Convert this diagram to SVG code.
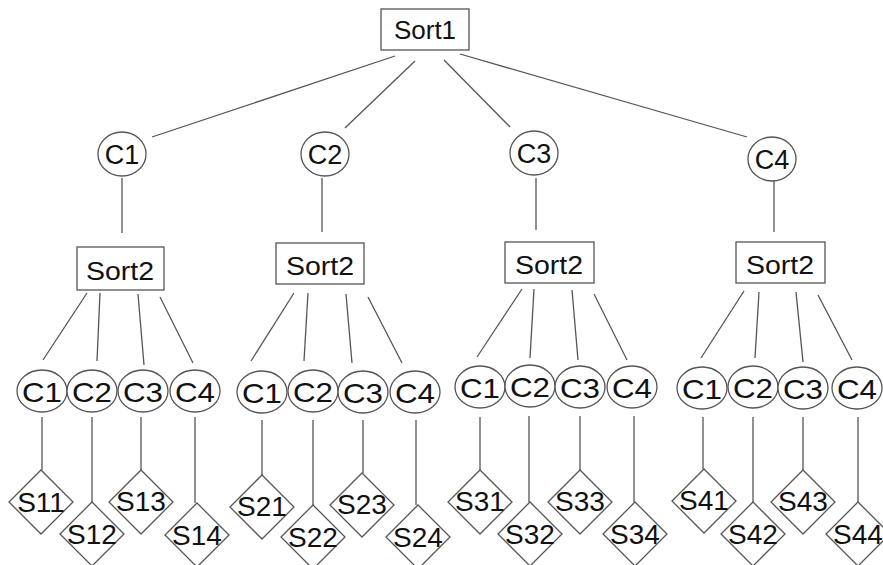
<svg xmlns="http://www.w3.org/2000/svg" width="883" height="565" viewBox="0 0 883 565">
<style>
.b{fill:#fff;stroke:#555;stroke-width:1.3}
.e{fill:#fff;stroke:#555;stroke-width:1.3}
.l{stroke:#555;stroke-width:1.3;fill:none}
text{font-family:"Liberation Sans",Arial,sans-serif;fill:#111;text-anchor:middle}
.ts{font-size:26px}
.tt{font-size:27px}
.tc{font-size:28px}
.td{font-size:28px}
</style>
<rect width="883" height="565" fill="#fff"/>
<g id="connectors">
<line class="l" x1="395" y1="56" x2="152" y2="137"/>
<line class="l" x1="415" y1="61" x2="345" y2="128"/>
<line class="l" x1="444" y1="60" x2="510" y2="127"/>
<line class="l" x1="460" y1="54" x2="747" y2="137"/>
<line class="l" x1="122" y1="178" x2="122" y2="233"/>
<line class="l" x1="322" y1="178" x2="322" y2="232"/>
<line class="l" x1="536" y1="178" x2="536" y2="230"/>
<line class="l" x1="774" y1="181" x2="774" y2="232"/>
<line class="l" x1="87" y1="293" x2="43" y2="360"/>
<line class="l" x1="100" y1="293" x2="97" y2="361"/>
<line class="l" x1="138" y1="294" x2="144" y2="365"/>
<line class="l" x1="160" y1="297" x2="193" y2="363"/>
<line class="l" x1="294" y1="293" x2="251" y2="361"/>
<line class="l" x1="308" y1="293" x2="304" y2="361"/>
<line class="l" x1="346" y1="294" x2="352" y2="363"/>
<line class="l" x1="368" y1="297" x2="402" y2="363"/>
<line class="l" x1="522" y1="289" x2="477" y2="357"/>
<line class="l" x1="534" y1="289" x2="530" y2="358"/>
<line class="l" x1="572" y1="290" x2="578" y2="360"/>
<line class="l" x1="594" y1="294" x2="627" y2="360"/>
<line class="l" x1="744" y1="291" x2="701" y2="358"/>
<line class="l" x1="759" y1="292" x2="755" y2="358"/>
<line class="l" x1="796" y1="292" x2="803" y2="362"/>
<line class="l" x1="818" y1="295" x2="852" y2="360"/>
<line class="l" x1="42" y1="417" x2="42" y2="470"/>
<line class="l" x1="92" y1="417" x2="92" y2="502"/>
<line class="l" x1="141" y1="417" x2="141" y2="470"/>
<line class="l" x1="195" y1="417" x2="195" y2="503"/>
<line class="l" x1="262" y1="420" x2="262" y2="475"/>
<line class="l" x1="313" y1="420" x2="313" y2="505"/>
<line class="l" x1="363" y1="420" x2="363" y2="473"/>
<line class="l" x1="416" y1="420" x2="416" y2="505"/>
<line class="l" x1="480" y1="417" x2="480" y2="470"/>
<line class="l" x1="529" y1="416" x2="529" y2="502"/>
<line class="l" x1="580" y1="416" x2="580" y2="470"/>
<line class="l" x1="634" y1="416" x2="634" y2="502"/>
<line class="l" x1="703" y1="417" x2="703" y2="469"/>
<line class="l" x1="753" y1="417" x2="753" y2="502"/>
<line class="l" x1="803" y1="417" x2="803" y2="470"/>
<line class="l" x1="858" y1="417" x2="858" y2="502"/>
</g>
<g id="sort1"><rect class="b" x="381" y="9" width="88" height="41"/><text class="ts" x="425" y="39">Sort1</text></g>
<g id="c1"><ellipse class="e" cx="122" cy="154" rx="24" ry="22"/><text class="tt" x="122" y="164">C1</text></g>
<g id="c2"><ellipse class="e" cx="325" cy="154" rx="24" ry="22"/><text class="tt" x="325" y="164">C2</text></g>
<g id="c3"><ellipse class="e" cx="534" cy="153" rx="24" ry="22"/><text class="tt" x="534" y="163">C3</text></g>
<g id="c4"><ellipse class="e" cx="772" cy="159" rx="24" ry="22"/><text class="tt" x="772" y="169">C4</text></g>
<g id="sort2-1"><rect class="b" x="77" y="247" width="87" height="43"/><text class="ts" x="120" y="280" textLength="68" lengthAdjust="spacingAndGlyphs">Sort2</text></g>
<g id="sort2-2"><rect class="b" x="276" y="243" width="88" height="41"/><text class="ts" x="320" y="275" textLength="68" lengthAdjust="spacingAndGlyphs">Sort2</text></g>
<g id="sort2-3"><rect class="b" x="505" y="242" width="89" height="41"/><text class="ts" x="549" y="274" textLength="68" lengthAdjust="spacingAndGlyphs">Sort2</text></g>
<g id="sort2-4"><rect class="b" x="736" y="242" width="89" height="41"/><text class="ts" x="780" y="274" textLength="68" lengthAdjust="spacingAndGlyphs">Sort2</text></g>
<g id="c1-1"><ellipse class="e" cx="42" cy="391" rx="25" ry="21"/><text class="tc" x="42" y="402" textLength="40" lengthAdjust="spacingAndGlyphs">C1</text></g>
<g id="c1-2"><ellipse class="e" cx="92" cy="391" rx="25" ry="21"/><text class="tc" x="92" y="402" textLength="40" lengthAdjust="spacingAndGlyphs">C2</text></g>
<g id="c1-3"><ellipse class="e" cx="143" cy="391" rx="25" ry="21"/><text class="tc" x="143" y="402" textLength="40" lengthAdjust="spacingAndGlyphs">C3</text></g>
<g id="c1-4"><ellipse class="e" cx="195" cy="391" rx="25" ry="21"/><text class="tc" x="195" y="402" textLength="40" lengthAdjust="spacingAndGlyphs">C4</text></g>
<g id="c2-1"><ellipse class="e" cx="262" cy="392" rx="25" ry="21"/><text class="tc" x="262" y="403" textLength="40" lengthAdjust="spacingAndGlyphs">C1</text></g>
<g id="c2-2"><ellipse class="e" cx="313" cy="391" rx="25" ry="21"/><text class="tc" x="313" y="402" textLength="40" lengthAdjust="spacingAndGlyphs">C2</text></g>
<g id="c2-3"><ellipse class="e" cx="363" cy="392" rx="25" ry="21"/><text class="tc" x="363" y="403" textLength="40" lengthAdjust="spacingAndGlyphs">C3</text></g>
<g id="c2-4"><ellipse class="e" cx="415" cy="392" rx="25" ry="21"/><text class="tc" x="415" y="403" textLength="40" lengthAdjust="spacingAndGlyphs">C4</text></g>
<g id="c3-1"><ellipse class="e" cx="480" cy="387" rx="25" ry="21"/><text class="tc" x="480" y="398" textLength="40" lengthAdjust="spacingAndGlyphs">C1</text></g>
<g id="c3-2"><ellipse class="e" cx="530" cy="386" rx="25" ry="21"/><text class="tc" x="530" y="397" textLength="40" lengthAdjust="spacingAndGlyphs">C2</text></g>
<g id="c3-3"><ellipse class="e" cx="580" cy="387" rx="25" ry="21"/><text class="tc" x="580" y="398" textLength="40" lengthAdjust="spacingAndGlyphs">C3</text></g>
<g id="c3-4"><ellipse class="e" cx="632" cy="387" rx="25" ry="21"/><text class="tc" x="632" y="398" textLength="40" lengthAdjust="spacingAndGlyphs">C4</text></g>
<g id="c4-1"><ellipse class="e" cx="702" cy="388" rx="25" ry="21"/><text class="tc" x="702" y="399" textLength="40" lengthAdjust="spacingAndGlyphs">C1</text></g>
<g id="c4-2"><ellipse class="e" cx="753" cy="387" rx="25" ry="21"/><text class="tc" x="753" y="398" textLength="40" lengthAdjust="spacingAndGlyphs">C2</text></g>
<g id="c4-3"><ellipse class="e" cx="803" cy="388" rx="25" ry="21"/><text class="tc" x="803" y="399" textLength="40" lengthAdjust="spacingAndGlyphs">C3</text></g>
<g id="c4-4"><ellipse class="e" cx="857" cy="388" rx="25" ry="21"/><text class="tc" x="857" y="399" textLength="40" lengthAdjust="spacingAndGlyphs">C4</text></g>
<g id="s11"><path class="b" d="M41 470 L73 502 L41 534 L9 502 Z"/><text class="td" x="41" y="512">S11</text></g>
<g id="s12"><path class="b" d="M92 502 L124 534 L92 566 L60 534 Z"/><text class="td" x="92" y="544">S12</text></g>
<g id="s13"><path class="b" d="M141 470 L173 502 L141 534 L109 502 Z"/><text class="td" x="141" y="511">S13</text></g>
<g id="s14"><path class="b" d="M197 503 L229 535 L197 567 L165 535 Z"/><text class="td" x="197" y="545">S14</text></g>
<g id="s21"><path class="b" d="M262 475 L294 507 L262 539 L230 507 Z"/><text class="td" x="262" y="516">S21</text></g>
<g id="s22"><path class="b" d="M313 505 L345 537 L313 569 L281 537 Z"/><text class="td" x="313" y="547">S22</text></g>
<g id="s23"><path class="b" d="M362 473 L394 505 L362 537 L330 505 Z"/><text class="td" x="362" y="514">S23</text></g>
<g id="s24"><path class="b" d="M418 505 L450 537 L418 569 L386 537 Z"/><text class="td" x="418" y="547">S24</text></g>
<g id="s31"><path class="b" d="M480 470 L512 502 L480 534 L448 502 Z"/><text class="td" x="480" y="511">S31</text></g>
<g id="s32"><path class="b" d="M530 502 L562 534 L530 566 L498 534 Z"/><text class="td" x="530" y="544">S32</text></g>
<g id="s33"><path class="b" d="M580 470 L612 502 L580 534 L548 502 Z"/><text class="td" x="580" y="511">S33</text></g>
<g id="s34"><path class="b" d="M635 502 L667 534 L635 566 L603 534 Z"/><text class="td" x="635" y="544">S34</text></g>
<g id="s41"><path class="b" d="M704 469 L736 501 L704 533 L672 501 Z"/><text class="td" x="704" y="510">S41</text></g>
<g id="s42"><path class="b" d="M753 502 L785 534 L753 566 L721 534 Z"/><text class="td" x="753" y="544">S42</text></g>
<g id="s43"><path class="b" d="M803 470 L835 502 L803 534 L771 502 Z"/><text class="td" x="803" y="511">S43</text></g>
<g id="s44"><path class="b" d="M858 502 L890 534 L858 566 L826 534 Z"/><text class="td" x="858" y="544">S44</text></g>
</svg>
